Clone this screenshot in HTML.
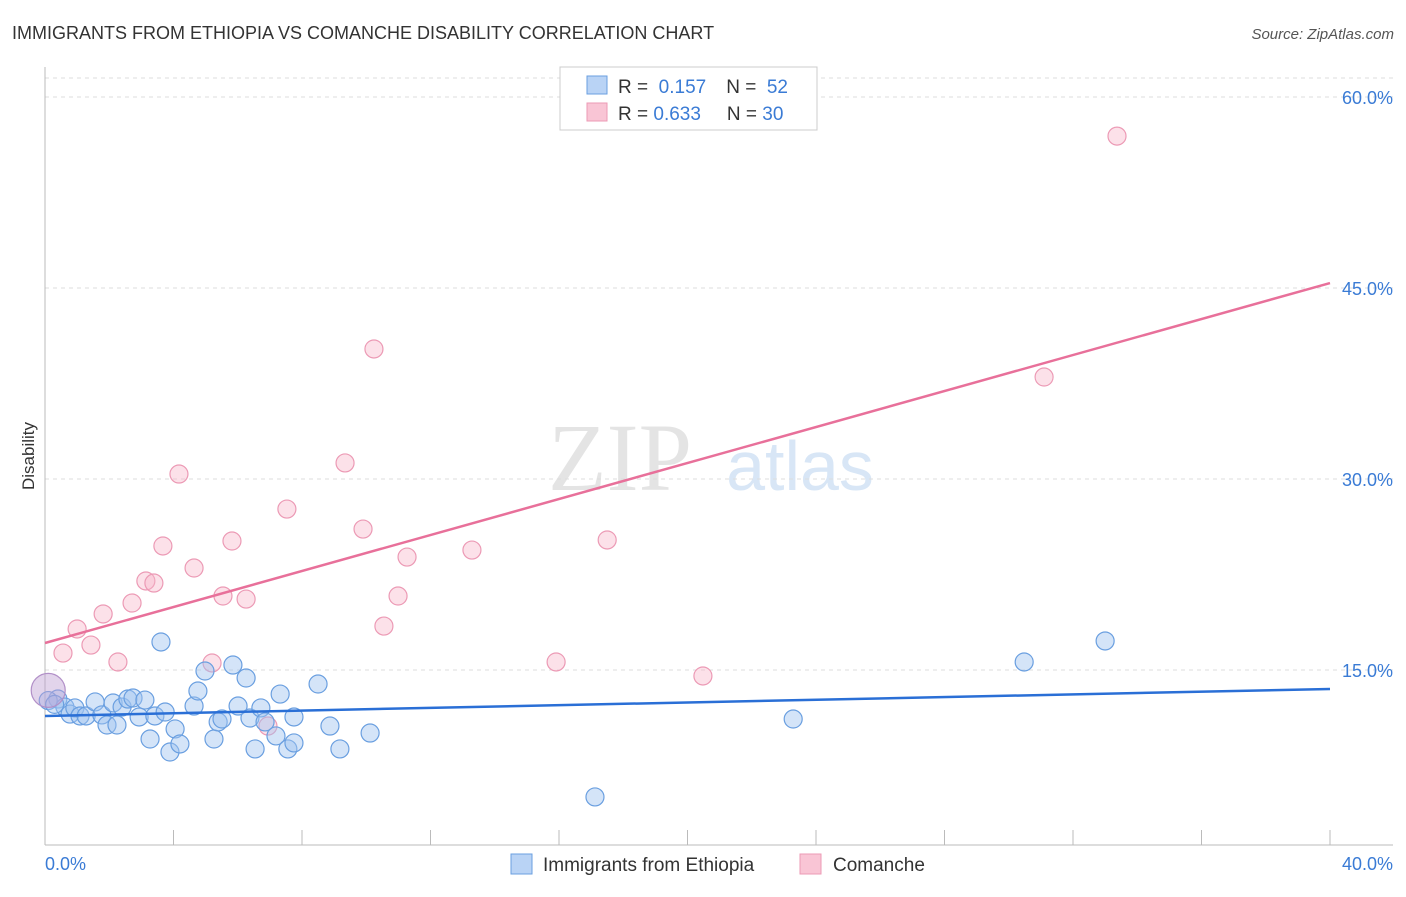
<!DOCTYPE html>
<html><head><meta charset="utf-8"><style>
body{margin:0;background:#fff;font-family:"Liberation Sans",sans-serif;}
</style></head><body>
<svg width="1406" height="892" xmlns="http://www.w3.org/2000/svg" id="svg" font-family="Liberation Sans, sans-serif">
<text x="12" y="39" font-size="18" fill="#333">IMMIGRANTS FROM ETHIOPIA VS COMANCHE DISABILITY CORRELATION CHART</text>
<text x="1394" y="39" font-size="15" fill="#555" font-style="italic" text-anchor="end">Source: ZipAtlas.com</text>
<text x="620" y="490" font-size="96" fill="#e4e4e4" font-family="Liberation Serif, serif" text-anchor="middle">ZIP</text>
<text x="800" y="490" font-size="70" fill="#d8e6f6" text-anchor="middle">atlas</text>
<g id="grid"></g>
<line x1="45" y1="67" x2="45" y2="845" stroke="#bbb"/>
<line x1="45" y1="845" x2="1393" y2="845" stroke="#bbb"/>
<text x="34" y="456" font-size="17" fill="#333" transform="rotate(-90 34 456)" text-anchor="middle">Disability</text>
<text x="45" y="870" font-size="18" fill="#3a7bd5">0.0%</text>
<text x="1393" y="870" font-size="18" fill="#3a7bd5" text-anchor="end">40.0%</text>
<g id="marks"></g>
<rect x="560" y="67" width="257" height="63" fill="#fff" stroke="#ccc"/>
<rect x="587" y="76" width="20" height="18" fill="#b9d3f5" stroke="#6a9fe0"/>
<rect x="587" y="103" width="20" height="18" fill="#f9c5d5" stroke="#ec9ab5"/>
<text x="618" y="93" font-size="19" fill="#333">R = <tspan fill="#3a7bd5">&#160;0.157</tspan><tspan dx="20">N = </tspan><tspan fill="#3a7bd5">&#160;52</tspan></text>
<text x="618" y="120" font-size="19" fill="#333">R = <tspan fill="#3a7bd5">0.633</tspan><tspan dx="26">N = </tspan><tspan fill="#3a7bd5">30</tspan></text>
<rect x="511" y="854" width="21" height="20" fill="#b9d3f5" stroke="#6a9fe0"/>
<text x="543" y="871" font-size="19" fill="#333">Immigrants from Ethiopia</text>
<rect x="800" y="854" width="21" height="20" fill="#f9c5d5" stroke="#ec9ab5"/>
<text x="833" y="871" font-size="19" fill="#333">Comanche</text>
</svg>
<script>
const yTicks=[15,30,45,60];
const xTickCount=10;
const blueX=[0.40,0.62,0.78,0.93,1.09,1.28,1.56,1.77,1.93,2.12,2.24,2.40,2.58,2.74,2.93,3.11,3.27,3.42,3.61,3.74,3.89,4.05,4.20,4.64,4.76,4.98,5.26,5.39,5.51,5.85,6.01,6.26,6.38,6.54,6.72,6.85,7.19,7.32,7.56,7.75,7.75,8.50,8.87,9.18,10.12,17.12,23.29,30.48,33.00,0.1,0.3];
const blueY=[12.72,12.09,11.54,12.02,11.39,11.39,12.49,11.47,10.68,12.41,10.68,12.09,12.72,12.80,11.31,12.64,9.58,11.39,17.20,11.70,8.56,10.37,9.19,12.17,13.35,14.92,9.58,10.92,11.15,15.39,12.17,14.37,11.23,8.80,12.02,10.92,9.82,13.11,8.80,9.27,11.31,13.90,10.60,8.80,10.05,5.03,11.15,15.63,17.28,12.6,12.3];
const pinkX=[0.56,1.00,1.43,1.81,2.27,2.71,3.14,3.39,3.67,4.17,4.64,5.20,5.54,5.82,6.26,6.94,7.53,9.34,9.90,10.24,10.55,10.99,11.27,13.29,15.91,17.50,20.48,31.10,33.37];
const pinkY=[16.33,18.22,16.96,19.40,15.63,20.26,21.99,21.83,24.74,30.39,23.01,15.55,20.81,25.13,20.57,10.60,27.64,31.26,26.07,40.21,18.45,20.81,23.87,24.42,15.63,25.21,14.53,38.01,56.93];
const bigPoint=[0.1,13.4];
const blueTrend=[11.39,13.51];
const pinkTrend=[17.12,45.39];
const xs=v=>45+v/40*1285;
const ys=v=>861-v*191/15;
const NS="http://www.w3.org/2000/svg";
const grid=document.getElementById('grid'),marks=document.getElementById('marks');
function mk(tag,attrs,parent){const e=document.createElementNS(NS,tag);for(const k in attrs)e.setAttribute(k,attrs[k]);parent.appendChild(e);return e;}
const topGrid=mk('line',{x1:45,y1:78,x2:1393,y2:78,stroke:'#ddd','stroke-dasharray':'4,4'},grid);


yTicks.forEach(t=>{
 const l=mk('line',{x1:45,y1:ys(t),x2:1393,y2:ys(t),stroke:'#ddd','stroke-dasharray':'4,4'},grid);
 
 
 const tx=mk('text',{x:1393,y:ys(t)+7,'font-size':18,fill:'#3a7bd5','text-anchor':'end'},grid);
 tx.textContent=t.toFixed(1)+'%';
 
 
});
for(let i=1;i<=xTickCount;i++){
 const x=xs(i*4);
 const l=mk('line',{x1:x,y1:830,x2:x,y2:845,stroke:'#bbb'},grid);
 
 
}
function dot(x,y,r,fill,stroke,name){
 const c=mk('circle',{cx:xs(x),cy:ys(y),r:r,fill:fill,stroke:stroke,'stroke-width':1.2},marks);
 
 
}
const bf='rgba(160,196,240,0.45)',bs='#6a9fe0',pf='rgba(248,180,200,0.4)',ps='#ec9ab5';
pinkX.forEach((x,i)=>dot(x,pinkY[i],9,pf,ps,'comanche-point'));
blueX.forEach((x,i)=>dot(x,blueY[i],9,bf,bs,'ethiopia-point'));
dot(bigPoint[0],bigPoint[1],17,'rgba(190,160,210,0.45)','#b290c8','large-overlap-point');
const bl=mk('line',{x1:xs(0),y1:ys(blueTrend[0]),x2:xs(40),y2:ys(blueTrend[1]),stroke:'#2a6fd6','stroke-width':2.5},marks);


const pl=mk('line',{x1:xs(0),y1:ys(pinkTrend[0]),x2:xs(40),y2:ys(pinkTrend[1]),stroke:'#e8709a','stroke-width':2.5},marks);


</script>
</body></html>
